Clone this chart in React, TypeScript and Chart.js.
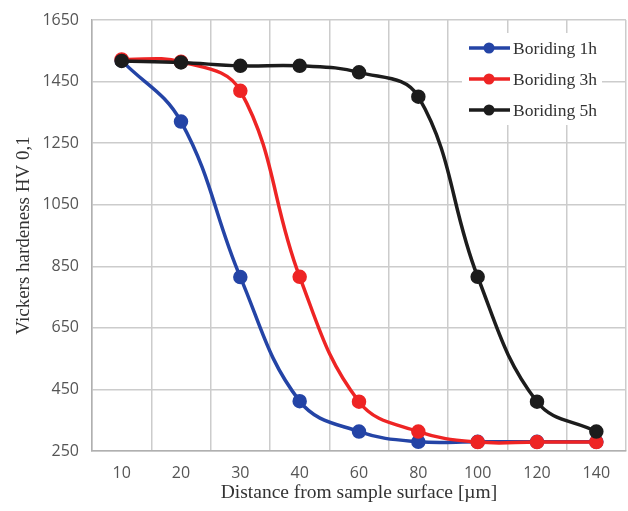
import React, { useEffect, useRef } from "react";
import { Chart, registerables } from "chart.js";

Chart.register(...registerables);

const categories = ["10", "20", "30", "40", "60", "80", "100", "120", "140"];
const boriding1h = [1518, 1320, 815, 412, 313, 280, 280, 280, 280];
const boriding3h = [1522, 1514, 1420, 816, 410, 313, 279, 279, 279];
const boriding5h = [1517, 1512, 1501, 1501, 1480, 1401, 816, 410, 313];
const seriesNames = ["Boriding 1h", "Boriding 3h", "Boriding 5h"];
const seriesColors = ["#2444A6", "#EE2424", "#1C1C1C"];
const yTicks = [250, 450, 650, 850, 1050, 1250, 1450, 1650];

const legendPlugin = {
  id: "insideLegend",
  afterDraw(chart: any) {
    const ctx = chart.ctx;
    const area = chart.chartArea;
    const boxLeft = area.right - 164;
    const boxTop = area.top + 13;
    ctx.save();
    ctx.fillStyle = "#ffffff";
    ctx.fillRect(boxLeft, boxTop, 140, 92);
    chart.data.datasets.forEach((ds: any, i: number) => {
      const y = boxTop + 15 + i * 31;
      const x0 = boxLeft + 7;
      ctx.strokeStyle = ds.borderColor;
      ctx.lineWidth = 3.5;
      ctx.beginPath();
      ctx.moveTo(x0, y);
      ctx.lineTo(x0 + 41, y);
      ctx.stroke();
      ctx.fillStyle = ds.borderColor;
      ctx.beginPath();
      ctx.arc(x0 + 20, y, 5.5, 0, Math.PI * 2);
      ctx.fill();
      ctx.fillStyle = "#333333";
      ctx.font = '17.5px "Liberation Serif", "Times New Roman", serif';
      ctx.textBaseline = "middle";
      ctx.textAlign = "left";
      ctx.fillText(ds.label, x0 + 44, y + 1);
    });
    ctx.restore();
  },
};

export default function App() {
  const canvasRef = useRef<HTMLCanvasElement | null>(null);

  useEffect(() => {
    document.body.style.margin = "0";
    const canvas = canvasRef.current;
    if (!canvas) return;
    const values = [boriding1h, boriding3h, boriding5h];
    const chart = new Chart(canvas, {
      type: "line",
      data: {
        labels: categories,
        datasets: values.map((v, i) => ({
          label: seriesNames[i],
          data: v,
          order: 2 - i,
          borderColor: seriesColors[i],
          backgroundColor: seriesColors[i],
          pointBackgroundColor: seriesColors[i],
          pointBorderColor: seriesColors[i],
          borderWidth: 3.5,
          pointRadius: 5.5,
          tension: 0.4,
          fill: false,
        })),
      },
      options: {
        responsive: false,
        animation: false,
        layout: { autoPadding: false, padding: { top: 20, right: 2, left: 0, bottom: 0 } },
        plugins: {
          legend: { display: false },
          tooltip: { enabled: false },
        },
        scales: {
          x: {
            type: "category",
            offset: true,
            grid: { offset: true, color: "#cccccc", lineWidth: 1.5, drawTicks: false },
            border: { color: "#b0b0b0", width: 1.5 },
            ticks: {
              padding: 13,
              color: "#555555",
              font: { family: '"Open Sans", sans-serif', size: 16 },
            },
            title: {
              display: true,
              text: "Distance from sample surface [µm]",
              color: "#333333",
              font: { family: '"Liberation Serif", "Times New Roman", serif', size: 19.5 },
              padding: { top: 0, bottom: 6 },
            },
            afterFit(scale: any) {
              scale.height = 60;
              scale.paddingLeft = 0;
              scale.paddingRight = 0;
            },
          },
          y: {
            min: 250,
            max: 1650,
            afterBuildTicks(scale: any) {
              scale.ticks = yTicks.map((v) => ({ value: v }));
            },
            grid: { color: "#cccccc", lineWidth: 1.5, drawTicks: false },
            border: { color: "#b0b0b0", width: 1.5 },
            ticks: {
              padding: 13,
              color: "#555555",
              font: { family: '"Open Sans", sans-serif', size: 16 },
              callback: (v: any) => String(v),
            },
            title: {
              display: true,
              text: "Vickers hardeness HV 0,1",
              color: "#333333",
              font: { family: '"Liberation Serif", "Times New Roman", serif', size: 19 },
              padding: { top: 13, bottom: 0 },
            },
            afterFit(scale: any) {
              scale.width = 92;
              scale.paddingTop = 0;
              scale.paddingBottom = 0;
            },
          },
        },
      },
      plugins: [legendPlugin],
    } as any);
    return () => chart.destroy();
  }, []);

  return (
    <div style={{ width: 628, height: 511, background: "#ffffff" }}>
      <canvas ref={canvasRef} width={628} height={511} style={{ display: "block" }} />
    </div>
  );
}
